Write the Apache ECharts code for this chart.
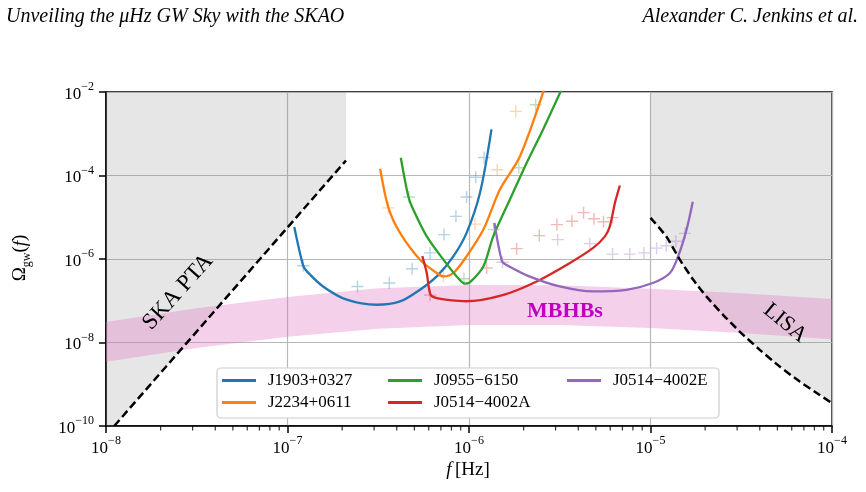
<!DOCTYPE html>
<html>
<head>
<meta charset="utf-8">
<script src="https://cdn.jsdelivr.net/npm/echarts@6/dist/echarts.min.js"></script>
<style>
  html, body { margin: 0; padding: 0; background: #fff; }
  #chart { width: 866px; height: 492px; }
</style>
</head>
<body>
<div id="chart"></div>
<script>
const FONT = '"Liberation Serif", "DejaVu Serif", serif'

// pulsar sensitivity curves (f [Hz], Omega_gw)
const blueX = [1.09e-7, 1.22e-7, 1.28e-7, 1.57e-7, 2.12e-7, 3.10e-7, 4.17e-7, 5.37e-7, 6.64e-7, 8.20e-7, 9.70e-7, 1.15e-6, 1.33e-6]
const blueY = [5.87e-6, 6.92e-7, 5.05e-7, 2.20e-7, 1.06e-7, 8.02e-8, 9.62e-8, 1.84e-7, 3.83e-7, 1.16e-6, 4.22e-6, 3.85e-5, 1.27e-3]
const orangeX = [3.24e-7, 3.60e-7, 4.17e-7, 5.37e-7, 6.64e-7, 7.23e-7, 8.20e-7, 9.70e-7, 1.20e-6, 1.48e-6, 1.91e-6, 2.60e-6]
const orangeY = [1.45e-4, 1.68e-5, 4.22e-6, 9.64e-7, 4.62e-7, 3.83e-7, 4.62e-7, 1.16e-6, 5.06e-6, 4.61e-5, 2.90e-4, 1.20e-2]
const greenX = [4.21e-7, 4.63e-7, 4.93e-7, 5.85e-7, 7.23e-7, 8.55e-7, 9.51e-7, 1.01e-6, 1.20e-6, 1.36e-6, 1.68e-6, 2.08e-6, 2.56e-6, 3.22e-6]
const greenY = [2.66e-4, 3.18e-5, 1.53e-5, 3.49e-6, 9.64e-7, 3.83e-7, 2.56e-7, 2.75e-7, 6.65e-7, 3.49e-6, 2.65e-5, 2.02e-4, 1.27e-3, 1.10e-2]
const redX = [5.53e-7, 5.85e-7, 6.14e-7, 6.67e-7, 7.85e-7, 9.64e-7, 1.55e-6, 2.36e-6, 3.60e-6, 4.83e-6, 5.61e-6, 5.97e-6, 6.37e-6, 6.78e-6]
const redY = [1.18e-6, 4.62e-7, 1.39e-7, 1.15e-7, 1.03e-7, 9.72e-8, 1.39e-7, 2.90e-7, 8.04e-7, 1.84e-6, 3.49e-6, 6.07e-6, 2.21e-5, 5.75e-5]
const purpleX = [1.38e-6, 1.52e-6, 1.60e-6, 2.15e-6, 3.16e-6, 4.81e-6, 7.38e-6, 1.03e-5, 1.28e-5, 1.42e-5, 1.58e-5, 1.71e-5]
const purpleY = [7.33e-6, 8.77e-7, 7.31e-7, 3.83e-7, 2.20e-7, 1.67e-7, 1.83e-7, 2.66e-7, 4.62e-7, 1.16e-6, 5.06e-6, 2.34e-5]

// '+' markers
const bluePlusX = [1.22e-7, 2.43e-7, 3.64e-7, 4.86e-7, 6.10e-7, 7.28e-7, 8.47e-7, 9.70e-7, 1.09e-6, 1.21e-6]
const bluePlusY = [6.92e-7, 2.20e-7, 2.66e-7, 5.86e-7, 1.40e-6, 3.84e-6, 1.05e-5, 3.05e-5, 9.10e-5, 2.70e-4]
const orangePlusX = [3.60e-7, 7.23e-7, 1.08e-6, 1.43e-6, 1.81e-6]
const orangePlusY = [1.68e-5, 3.87e-7, 6.85e-6, 1.37e-4, 3.44e-3]
const greenPlusX = [4.67e-7, 9.38e-7, 1.37e-6, 1.88e-6, 2.33e-6]
const greenPlusY = [3.05e-5, 3.37e-7, 5.06e-6, 1.53e-4, 4.97e-3]
const redPlusX = [6.10e-7, 1.25e-6, 1.83e-6, 2.44e-6, 3.05e-6, 3.69e-6, 4.28e-6, 4.88e-6, 5.51e-6, 6.17e-6]
const redPlusY = [1.36e-7, 6.10e-7, 1.77e-6, 3.63e-6, 6.67e-6, 8.02e-6, 1.29e-5, 9.20e-6, 7.80e-6, 9.82e-6]
const purplePlusX = [1.53e-6, 3.08e-6, 4.63e-6, 6.18e-6, 7.69e-6, 9.20e-6, 1.08e-5, 1.22e-5, 1.38e-5, 1.55e-5]
const purplePlusY = [8.39e-7, 2.91e-6, 2.33e-6, 1.31e-6, 1.31e-6, 1.40e-6, 1.82e-6, 2.07e-6, 2.67e-6, 4.12e-6]

// SKA PTA and LISA sensitivity
const ptaX = [1.11e-8, 2.10e-7]
const ptaY = [1e-10, 2.29e-4]
const lisaX = [1.00e-5, 1.22e-5, 1.45e-5, 1.72e-5, 2.03e-5, 2.51e-5, 3.10e-5, 4.00e-5, 5.15e-5, 6.64e-5, 8.55e-5, 1.00e-4]
const lisaY = [9.66e-6, 3.49e-6, 9.64e-7, 3.19e-7, 1.27e-7, 4.61e-8, 1.83e-8, 6.67e-9, 2.65e-9, 1.16e-9, 5.55e-10, 3.51e-10]

// MBHB band
const bandX = [1e-8, 3.16e-8, 1e-7, 3.16e-7, 1e-6, 3.16e-6, 1e-5, 3.16e-5, 1e-4]
const bandUpper = [3.09e-8, 6.61e-8, 1.23e-7, 2.00e-7, 2.40e-7, 2.34e-7, 1.95e-7, 1.51e-7, 1.10e-7]
const bandLower = [3.47e-9, 7.41e-9, 1.38e-8, 2.14e-8, 2.63e-8, 2.63e-8, 2.24e-8, 1.70e-8, 1.20e-8]

const xMin = 1e-8, xMax = 1e-4, yMin = 1e-10, yMax = 1e-2
const xMinorTicks = []
;[1e-8, 1e-7, 1e-6, 1e-5].forEach(d => {
  for (let k = 2; k <= 9; k++) xMinorTicks.push(k * d)
})

const names = ['J1903+0327', 'J2234+0611', 'J0955\u22126150', 'J0514\u22124002A', 'J0514\u22124002E']
const colors = ['#1f77b4', '#ff7f0e', '#2ca02c', '#d62728', '#9467bd']
const curvesX = [blueX, orangeX, greenX, redX, purpleX]
const curvesY = [blueY, orangeY, greenY, redY, purpleY]
const plusX = [bluePlusX, orangePlusX, greenPlusX, redPlusX, purplePlusX]
const plusY = [bluePlusY, orangePlusY, greenPlusY, redPlusY, purplePlusY]

const pts = (xs, ys) => xs.map((x, i) => [x, ys[i]])
const PLUS = 'path://M5.3,0H6.7V5.3H12V6.7H6.7V12H5.3V6.7H0V5.3H5.3Z'

function polygonSeries(xs, ys, fill, z) {
  return {
    type: 'custom',
    z: z,
    silent: true,
    data: [[1e-6, 1e-6]],
    renderItem: (params, api) => ({
      type: 'polygon',
      shape: { points: xs.map((x, i) => api.coord([x, ys[i]])) },
      style: { fill: fill }
    })
  }
}

const series = []
// grey regions above detector curves
series.push(polygonSeries(
  [xMin].concat(ptaX, [ptaX[1], xMin]),
  [yMin].concat(ptaY, [yMax, yMax]),
  'rgba(128,128,128,0.2)', 1))
series.push(polygonSeries(
  lisaX.concat([xMax, lisaX[0]]),
  lisaY.concat([yMax, yMax]),
  'rgba(128,128,128,0.2)', 1))
// MBHB band
series.push(polygonSeries(
  bandX.concat(bandX.slice().reverse()),
  bandUpper.concat(bandLower.slice().reverse()),
  'rgba(227,119,194,0.35)', 1))

// minor ticks of the log x axis, hung below the axis line
series.push({
  type: 'scatter',
  silent: true,
  z: 10,
  clip: false,
  symbol: 'rect',
  symbolSize: [1.2, 4.5],
  symbolOffset: [0, 2.25],
  itemStyle: { color: '#000' },
  data: xMinorTicks.map(v => [v, yMin])
})

names.forEach((name, i) => {
  series.push({
    type: 'scatter',
    z: 2,
    silent: true,
    symbol: PLUS,
    symbolSize: 12,
    itemStyle: { color: colors[i], opacity: 0.33 },
    data: pts(plusX[i], plusY[i])
  })
})
names.forEach((name, i) => {
  series.push({
    name: name,
    type: 'line',
    z: 3,
    showSymbol: false,
    clip: true,
    smooth: 0.3,
    color: colors[i],
    lineStyle: { width: 2.3, color: colors[i] },
    data: pts(curvesX[i], curvesY[i])
  })
})
series.push({
  type: 'line', z: 4, showSymbol: false, clip: true,
  lineStyle: { color: '#000', width: 2.5, type: [8, 4] },
  data: pts(ptaX, ptaY)
})
series.push({
  type: 'line', z: 4, showSymbol: false, clip: true, smooth: 0.2,
  lineStyle: { color: '#000', width: 2.5, type: [8, 4] },
  data: pts(lisaX, lisaY)
})

const tickRich = {
  b: { fontFamily: FONT, fontSize: 17, color: '#000', lineHeight: 22, verticalAlign: 'bottom' },
  s: { fontFamily: FONT, fontSize: 12, color: '#000', lineHeight: 12, verticalAlign: 'top' }
}
const tickFmt = v => '{b|10}{s|\u2212' + (-Math.round(Math.log10(v))) + '}'

// legend, laid out in matplotlib column order
const legendPos = [[222, 372], [222, 394], [388, 372], [388, 394], [567, 372]]
const legends = names.map((name, i) => ({
  data: [name],
  left: legendPos[i][0],
  top: legendPos[i][1],
  padding: 0,
  icon: 'rect',
  itemWidth: 34,
  itemHeight: 3,
  selectedMode: false,
  z: 20,
  textStyle: { fontFamily: FONT, fontSize: 17, color: '#000', padding: [0, 0, 0, 7] }
}))

const myChart = echarts.init(document.getElementById('chart'), null, { renderer: 'canvas' })
const option = {
  animation: false,
  backgroundColor: '#fff',
  grid: {
    left: 106, right: 34, top: 92, bottom: 66,
    show: true, borderColor: '#000', borderWidth: 1.5, backgroundColor: '#fff'
  },
  legend: legends,
  xAxis: {
    type: 'log', logBase: 10, min: xMin, max: xMax, interval: 1,
    axisLine: { lineStyle: { color: '#000', width: 1.5 } },
    axisTick: { length: 7, lineStyle: { color: '#000', width: 1.5 } },
    axisLabel: { formatter: tickFmt, rich: tickRich, margin: 9 },
    splitLine: { show: true, lineStyle: { color: '#b8b8b8', width: 1.2 } }
  },
  yAxis: {
    type: 'log', logBase: 10, min: yMin, max: yMax, interval: 2,
    axisLine: { lineStyle: { color: '#000', width: 1.5 } },
    axisTick: { length: 7, lineStyle: { color: '#000', width: 1.5 } },
    axisLabel: { formatter: tickFmt, rich: tickRich, margin: 12 },
    splitLine: { show: true, lineStyle: { color: '#b8b8b8', width: 1.2 } }
  },
  graphic: [
    { type: 'rect', z: 10, silent: true,
      shape: { x: 217, y: 368, width: 502, height: 50, r: 4 },
      style: { fill: '#fff', stroke: '#cccccc', lineWidth: 1.2 } },
    { type: 'text', left: 6, top: 7, z: 10,
      style: { text: 'Unveiling the \u03bcHz GW Sky with the SKAO', font: 'italic 20px ' + FONT, fill: '#000' } },
    { type: 'text', right: 8, top: 7, z: 10,
      style: { text: 'Alexander C. Jenkins et al.', font: 'italic 20px ' + FONT, fill: '#000' } },
    { type: 'text', x: 22, y: 258, rotation: Math.PI / 2, z: 10,
      style: {
        text: '{a|\u03a9}{s|gw}{a|(}{i|f}{a|)}', align: 'center', verticalAlign: 'middle',
        rich: {
          a: { fontFamily: FONT, fontSize: 19, lineHeight: 22, verticalAlign: 'top' },
          i: { fontFamily: FONT, fontSize: 19, fontStyle: 'italic', lineHeight: 22, verticalAlign: 'top' },
          s: { fontFamily: FONT, fontSize: 12, lineHeight: 12, verticalAlign: 'bottom' }
        }
      } },
    { type: 'text', x: 468, y: 470, z: 10,
      style: {
        text: '{i|f} {a|[Hz]}', align: 'center', verticalAlign: 'middle',
        rich: {
          a: { fontFamily: FONT, fontSize: 19 },
          i: { fontFamily: FONT, fontSize: 19, fontStyle: 'italic' }
        }
      } },
    { type: 'text', x: 565, y: 311, z: 10,
      style: { text: 'MBHBs', font: 'bold 22px ' + FONT, fill: '#bf00bf', align: 'center', verticalAlign: 'middle' } },
    { type: 'text', x: 178, y: 292, rotation: 0.84, z: 10,
      style: { text: 'SKA PTA', font: '23px ' + FONT, fill: '#000', align: 'center', verticalAlign: 'middle' } },
    { type: 'text', x: 785, y: 323, rotation: -0.69, z: 10,
      style: { text: 'LISA', font: '22px ' + FONT, fill: '#000', align: 'center', verticalAlign: 'middle' } }
  ],
  series: series
}
myChart.setOption(option)
</script>
</body>
</html>
